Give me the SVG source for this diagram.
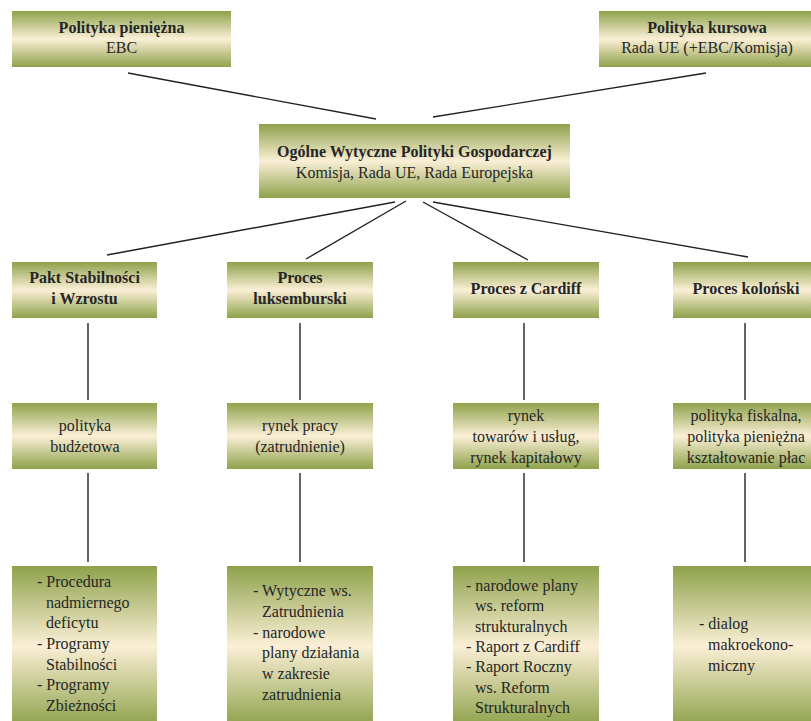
<svg xmlns="http://www.w3.org/2000/svg" width="811" height="721" viewBox="0 0 811 721">
<defs>
<linearGradient id="g" x1="0" y1="0" x2="0" y2="1">
<stop offset="0" stop-color="#8ea24b"/>
<stop offset="0.5" stop-color="#fbefd6"/>
<stop offset="1" stop-color="#8ea24b"/>
</linearGradient>
<style>
.box{fill:url(#g);}
text{font-family:"Liberation Serif","Times New Roman",serif;font-size:16px;fill:#262626;}
.c{text-anchor:middle;}
.b{font-weight:bold;}
.ln{stroke:#222;stroke-width:1.4;fill:none;}
</style>
</defs>
<g id="connectors">
<line class="ln" x1="128" y1="73" x2="376" y2="119"/>
<line class="ln" x1="706" y1="73" x2="433" y2="117"/>
<line class="ln" x1="395" y1="202" x2="107" y2="255"/>
<line class="ln" x1="406" y1="201" x2="306" y2="259"/>
<line class="ln" x1="423" y1="202" x2="528" y2="260"/>
<line class="ln" x1="433" y1="202" x2="748" y2="257"/>
<line class="ln" x1="88" y1="323" x2="88" y2="400"/>
<line class="ln" x1="300" y1="323" x2="300" y2="400"/>
<line class="ln" x1="524" y1="323" x2="524" y2="400"/>
<line class="ln" x1="745" y1="323" x2="745" y2="400"/>
<line class="ln" x1="88" y1="473" x2="88" y2="562"/>
<line class="ln" x1="300" y1="473" x2="300" y2="562"/>
<line class="ln" x1="524" y1="473" x2="524" y2="562"/>
<line class="ln" x1="745" y1="473" x2="745" y2="562"/>
</g>
<g id="polityka-pieniezna">
<rect class="box" x="12" y="11" width="219" height="56"/>
<text class="c b" x="121.5" y="33">Polityka pieniężna</text>
<text class="c" x="121.5" y="53">EBC</text>
</g>
<g id="polityka-kursowa">
<rect class="box" x="599" y="11" width="216" height="56"/>
<text class="c b" x="707" y="33">Polityka kursowa</text>
<text class="c" x="707" y="53">Rada UE (+EBC/Komisja)</text>
</g>
<g id="owpg">
<rect class="box" x="259" y="124" width="311" height="74"/>
<text class="c b" x="414.5" y="157">Ogólne Wytyczne Polityki Gospodarczej</text>
<text class="c" x="414.5" y="178">Komisja, Rada UE, Rada Europejska</text>
</g>
<g id="pakt">
<rect class="box" x="12" y="262" width="145" height="56"/>
<text class="c b" x="84.5" y="283">Pakt Stabilności</text>
<text class="c b" x="84.5" y="304">i Wzrostu</text>
</g>
<g id="luksemburski">
<rect class="box" x="227" y="262" width="146" height="56"/>
<text class="c b" x="300" y="283">Proces</text>
<text class="c b" x="300" y="304">luksemburski</text>
</g>
<g id="cardiff">
<rect class="box" x="453" y="262" width="146" height="56"/>
<text class="c b" x="526" y="294">Proces z Cardiff</text>
</g>
<g id="kolonski">
<rect class="box" x="673" y="262" width="146" height="56"/>
<text class="c b" x="746" y="294">Proces koloński</text>
</g>
<g id="budzetowa">
<rect class="box" x="12" y="403" width="145" height="66"/>
<text class="c" x="85" y="431">polityka</text>
<text class="c" x="85" y="452">budżetowa</text>
</g>
<g id="rynek-pracy">
<rect class="box" x="227" y="403" width="146" height="66"/>
<text class="c" x="300" y="431">rynek pracy</text>
<text class="c" x="300" y="452">(zatrudnienie)</text>
</g>
<g id="rynek-towarow">
<rect class="box" x="453" y="403" width="146" height="66"/>
<text class="c" x="526" y="421">rynek</text>
<text class="c" x="526" y="442">towarów i usług,</text>
<text class="c" x="526" y="463">rynek kapitałowy</text>
</g>
<g id="fiskalna">
<rect class="box" x="673" y="403" width="146" height="66"/>
<text class="c" x="746" y="421">polityka fiskalna,</text>
<text class="c" x="746" y="442">polityka pieniężna</text>
<text class="c" x="746" y="463">kształtowanie płac</text>
</g>
<g id="pakt-lista">
<rect class="box" x="12" y="566" width="145" height="160"/>
<text x="37" y="587">- Procedura</text>
<text x="46" y="607.5">nadmiernego</text>
<text x="46" y="628">deficytu</text>
<text x="37" y="649">- Programy</text>
<text x="46" y="669.5">Stabilności</text>
<text x="37" y="690">- Programy</text>
<text x="46" y="711">Zbieżności</text>
</g>
<g id="luks-lista">
<rect class="box" x="227" y="566" width="146" height="160"/>
<text x="253" y="596">- Wytyczne ws.</text>
<text x="262" y="617">Zatrudnienia</text>
<text x="253" y="637.5">- narodowe</text>
<text x="262" y="658">plany działania</text>
<text x="262" y="679">w zakresie</text>
<text x="262" y="700">zatrudnienia</text>
</g>
<g id="cardiff-lista">
<rect class="box" x="453" y="566" width="146" height="160"/>
<text x="466" y="591">- narodowe plany</text>
<text x="475" y="611">ws. reform</text>
<text x="475" y="631.5">strukturalnych</text>
<text x="466" y="652">- Raport z Cardiff</text>
<text x="466" y="672">- Raport Roczny</text>
<text x="475" y="692.5">ws. Reform</text>
<text x="475" y="713">Strukturalnych</text>
</g>
<g id="kolonski-lista">
<rect class="box" x="673" y="566" width="146" height="160"/>
<text x="699" y="629">- dialog</text>
<text x="708" y="650">makroekono-</text>
<text x="708" y="671">miczny</text>
</g>
</svg>
